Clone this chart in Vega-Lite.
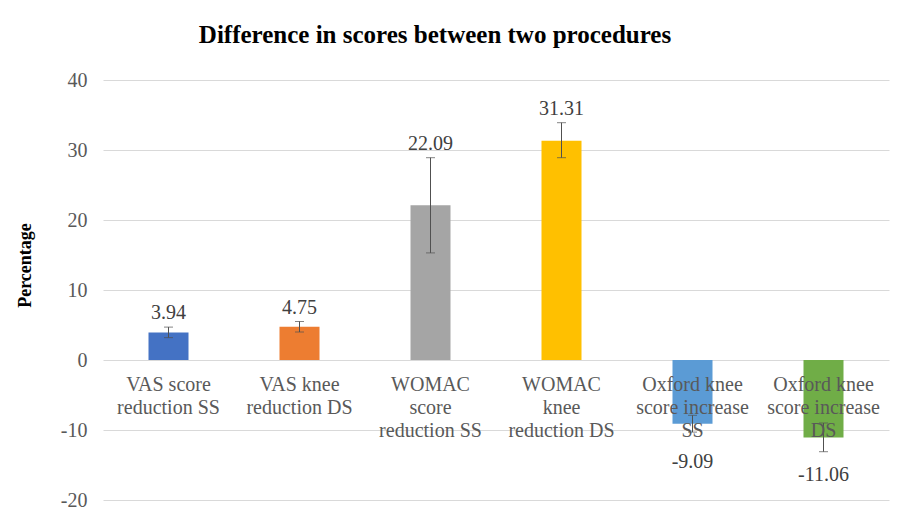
{
  "$schema": "https://vega.github.io/schema/vega-lite/v6.json",
  "width": 786,
  "height": 420,
  "autosize": "none",
  "padding": {"left": 103, "top": 80, "right": 17, "bottom": 19},
  "background": "white",
  "config": {"view": {"stroke": null}},
  "title": {
    "text": "Difference in scores between two procedures",
    "font": "Liberation Serif",
    "fontSize": 25,
    "fontWeight": "bold",
    "color": "#000000",
    "anchor": "middle",
    "frame": "group",
    "baseline": "alphabetic",
    "offset": 2,
    "dx": -61
  },
  "data": {
    "values": [
      {"cat": "VAS score reduction SS", "label": "VAS score\nreduction SS", "value": 3.94, "vlabel": "3.94", "lo": 3.2, "hi": 4.7},
      {"cat": "VAS knee reduction DS", "label": "VAS knee\nreduction DS", "value": 4.75, "vlabel": "4.75", "lo": 4.0, "hi": 5.5},
      {"cat": "WOMAC score reduction SS", "label": "WOMAC\nscore\nreduction SS", "value": 22.09, "vlabel": "22.09", "lo": 15.3, "hi": 28.9},
      {"cat": "WOMAC knee reduction DS", "label": "WOMAC\nknee\nreduction DS", "value": 31.31, "vlabel": "31.31", "lo": 28.9, "hi": 33.9},
      {"cat": "Oxford knee score increase SS", "label": "Oxford knee\nscore increase\nSS", "value": -9.09, "vlabel": "-9.09", "lo": -10.3, "hi": -7.9},
      {"cat": "Oxford knee score increase DS", "label": "Oxford knee\nscore increase\nDS", "value": -11.06, "vlabel": "-11.06", "lo": -13.1, "hi": -9.0}
    ]
  },
  "encoding": {
    "x": {
      "field": "cat",
      "type": "nominal",
      "sort": null,
      "axis": null,
      "scale": {"paddingInner": 0, "paddingOuter": 0}
    }
  },
  "layer": [
    {
      "mark": {"type": "bar", "size": 40},
      "encoding": {
        "y": {
          "field": "value",
          "type": "quantitative",
          "scale": {"domain": [-20, 40], "nice": false, "zero": false},
          "axis": {
            "title": "Percentage",
            "titleFont": "Liberation Serif",
            "titleFontSize": 18,
            "titleFontWeight": "bold",
            "titleColor": "#000000",
            "titleX": -78,
            "titleY": 185,
            "titleAngle": 270,
            "titleAlign": "center",
            "titleBaseline": "middle",
            "labelFont": "Liberation Serif",
            "labelFontSize": 20,
            "labelColor": "#595959",
            "labelPadding": 16,
            "labelExpr": "replace(datum.label, '−', '-')",
            "ticks": false,
            "domain": false,
            "grid": true,
            "gridColor": "#D9D9D9",
            "gridWidth": 1,
            "values": [-20, -10, 0, 10, 20, 30, 40]
          }
        },
        "color": {
          "field": "cat",
          "type": "nominal",
          "legend": null,
          "scale": {
            "domain": ["VAS score reduction SS", "VAS knee reduction DS", "WOMAC score reduction SS", "WOMAC knee reduction DS", "Oxford knee score increase SS", "Oxford knee score increase DS"],
            "range": ["#4472C4", "#ED7D31", "#A5A5A5", "#FFC000", "#5B9BD5", "#70AD47"]
          }
        }
      }
    },
    {
      "mark": {"type": "rule", "color": "#505050", "strokeWidth": 1},
      "encoding": {
        "y": {"field": "lo", "type": "quantitative"},
        "y2": {"field": "hi"}
      }
    },
    {
      "mark": {"type": "tick", "color": "#505050", "size": 9, "thickness": 1},
      "encoding": {"y": {"field": "lo", "type": "quantitative"}}
    },
    {
      "mark": {"type": "tick", "color": "#505050", "size": 9, "thickness": 1},
      "encoding": {"y": {"field": "hi", "type": "quantitative"}}
    },
    {
      "transform": [{"filter": "datum.value > 0"}],
      "mark": {"type": "text", "font": "Liberation Serif", "fontSize": 20, "color": "#404040", "baseline": "middle", "dy": -14},
      "encoding": {
        "y": {"field": "hi", "type": "quantitative"},
        "text": {"field": "vlabel"}
      }
    },
    {
      "transform": [{"filter": "datum.value < 0"}],
      "mark": {"type": "text", "font": "Liberation Serif", "fontSize": 20, "color": "#404040", "baseline": "middle", "dy": 38},
      "encoding": {
        "y": {"field": "value", "type": "quantitative"},
        "text": {"field": "vlabel"}
      }
    },
    {
      "mark": {"type": "text", "font": "Liberation Serif", "fontSize": 20, "color": "#595959", "baseline": "top", "dy": 15, "lineBreak": "\n", "lineHeight": 23},
      "encoding": {
        "y": {"datum": 0, "type": "quantitative"},
        "text": {"field": "label"}
      }
    }
  ]
}
